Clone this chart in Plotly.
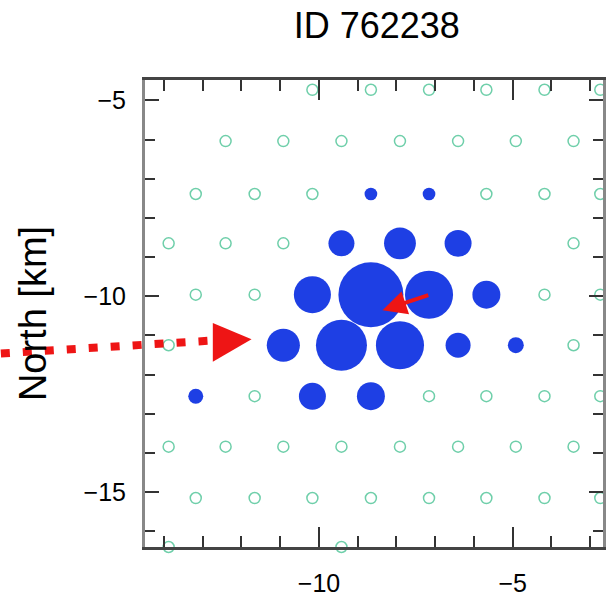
import plotly.graph_objects as go

# ---- data (km) ----
title_text = "ID 762238"
y_title = "North [km]"

# station grid rows (North coordinate)
row_y = [-4.73, -6.04, -7.39, -8.65, -9.96, -11.25, -12.55, -13.84, -15.15, -16.40]

# stations without detection (open circles), East coordinates per row
green_rows = [
    [-10.17, -8.66, -7.16, -5.68, -4.18, -2.74],
    [-12.41, -10.92, -9.42, -7.91, -6.41, -4.92, -3.43],
    [-13.18, -11.66, -10.17, -5.68, -4.18, -2.74],
    [-13.88, -12.41, -10.92, -3.43],
    [-13.18, -11.66, -4.18, -2.74],
    [-13.88, -12.41, -3.43],
    [-11.66, -7.16, -5.68, -4.18, -2.74],
    [-13.88, -12.41, -10.92, -9.42, -7.91, -6.41, -4.92, -3.43],
    [-13.18, -11.66, -10.17, -8.66, -7.16, -5.68, -4.18, -2.74],
    [-13.88, -9.42],
]

# detecting stations (filled circles): East, North, signal (arbitrary units)
det_east = [-8.66, -7.16,
            -9.42, -7.91, -6.41,
            -10.17, -8.66, -7.16, -5.68,
            -10.92, -9.42, -7.91, -6.41, -4.92,
            -13.18, -10.17, -8.66]
det_north = [-7.39, -7.39,
             -8.65, -8.65, -8.65,
             -9.96, -9.96, -9.96, -9.96,
             -11.25, -11.25, -11.25, -11.25, -11.25,
             -12.55, -12.55, -12.55]
det_signal = [1.95, 1.95,
              4.0, 4.9, 4.15,
              5.7, 10.0, 7.4, 4.3,
              5.1, 7.85, 7.4, 3.85, 2.45,
              2.3, 4.15, 4.3]

# reconstructed shower axis (arrow tail -> tip)
axis_tail = (-7.14, -9.96)
axis_tip = (-8.36, -10.36)

# incoming direction indicator (dotted line + triangle)
dir_line_start = (-18.21, -11.46)
dir_line_end = (-12.74, -11.13)
tri_base_top = (-12.74, -10.68)
tri_base_bot = (-12.74, -11.67)
tri_tip = (-11.74, -11.10)

XR = [-14.49, -2.67]
YR = [-16.40, -4.48]

GREEN = "#6fcfaa"
BLUE = "#1e3fe4"
RED = "#ee1515"
FONT = "Liberation Sans, Arial, Helvetica, sans-serif"

gx, gy = [], []
for yv, xs in zip(row_y, green_rows):
    for xv in xs:
        gx.append(xv)
        gy.append(yv)

fig = go.Figure()
fig.add_trace(go.Scatter(
    x=gx, y=gy, mode="markers",
    marker=dict(symbol="circle-open", size=11, color=GREEN, opacity=1,
                line=dict(width=1.5, color=GREEN)),
    cliponaxis=False, hoverinfo="skip", showlegend=False))
fig.add_trace(go.Scatter(
    x=det_east, y=det_north, mode="markers",
    marker=dict(size=[s * 6.5 for s in det_signal], color=BLUE, opacity=1, line=dict(width=0)),
    hoverinfo="skip", showlegend=False))


def fx(v):
    return (v - XR[0]) / (XR[1] - XR[0])


def fy(v):
    return (v - YR[0]) / (YR[1] - YR[0])


# dotted direction line (unclipped, domain refs)
fig.add_shape(type="line", xref="x domain", yref="y domain",
              x0=fx(dir_line_start[0]), y0=fy(dir_line_start[1]),
              x1=fx(dir_line_end[0]), y1=fy(dir_line_end[1]),
              line=dict(color=RED, width=8, dash="9px,13px"))
# triangle head
fig.add_shape(type="path", xref="x", yref="y",
              path=f"M {tri_base_top[0]},{tri_base_top[1]} L {tri_tip[0]},{tri_tip[1]} L {tri_base_bot[0]},{tri_base_bot[1]} Z",
              fillcolor=RED, line=dict(width=0))

# small reconstructed-axis arrow
fig.add_annotation(x=axis_tip[0], y=axis_tip[1], ax=axis_tail[0], ay=axis_tail[1],
                   xref="x", yref="y", axref="x", ayref="y", text="",
                   showarrow=True, arrowhead=2, arrowsize=1.2, arrowwidth=4, arrowcolor=RED)

fig.update_layout(
    width=606, height=597,
    margin=dict(l=145, r=0, t=80, b=46),
    paper_bgcolor="white", plot_bgcolor="white",
    font=dict(family=FONT, color="black", size=25),
    title=dict(text=title_text, x=0.506, xref="paper", xanchor="center",
               y=1 - 25 / 597, yref="container", yanchor="middle",
               font=dict(size=36, family=FONT, color="black")),
)
fig.update_xaxes(
    range=XR, showgrid=False, zeroline=False,
    showline=True, linecolor="#444", linewidth=2.5, mirror="ticks",
    tick0=0, dtick=5, ticks="inside", ticklen=20, tickwidth=2, tickcolor="#333",
    minor=dict(dtick=1, tick0=0, ticks="inside", ticklen=11, tickwidth=1.5, tickcolor="#333"),
    ticklabelstandoff=12, tickfont=dict(size=25),
)
fig.update_yaxes(
    range=YR, showgrid=False, zeroline=False,
    showline=True, linecolor="#888", linewidth=3, mirror="ticks",
    tick0=0, dtick=5, ticks="inside", ticklen=14, tickwidth=2, tickcolor="#333",
    minor=dict(dtick=1, tick0=0, ticks="inside", ticklen=10, tickwidth=1.5, tickcolor="#333"),
    ticklabelstandoff=11, tickfont=dict(size=25),
    title=dict(text=y_title, font=dict(size=38, family=FONT), standoff=26),
)

fig.write_html("out.html")
